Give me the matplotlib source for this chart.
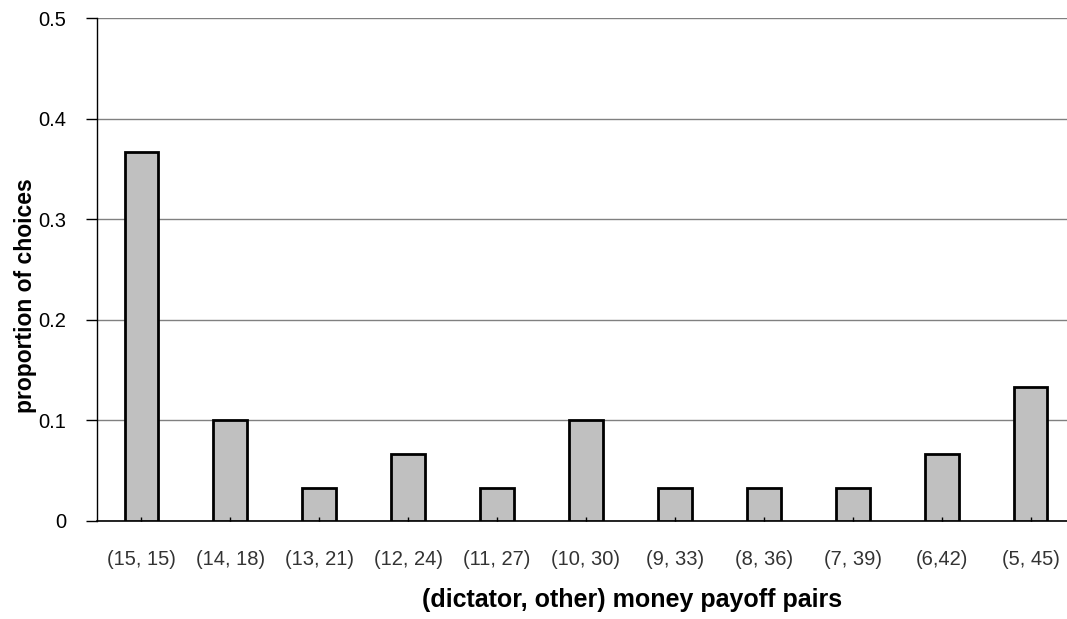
import matplotlib
matplotlib.use("Agg")
import matplotlib.pyplot as plt

categories = ["(15, 15)", "(14, 18)", "(13, 21)", "(12, 24)", "(11, 27)", "(10, 30)",
              "(9, 33)", "(8, 36)", "(7, 39)", "(6,42)", "(5, 45)"]
values = [0.367, 0.100, 0.033, 0.067, 0.033, 0.100, 0.033, 0.033, 0.033, 0.067, 0.133]
yticks = [0, 0.1, 0.2, 0.3, 0.4, 0.5]
ytick_labels = ["0", "0.1", "0.2", "0.3", "0.4", "0.5"]

plt.rcParams['font.family'] = ['Liberation Sans', 'DejaVu Sans']

W, H = 1067, 619
fig = plt.figure(figsize=(W/100, H/100), dpi=100)
left, right, top, bottom = 97, 1075, 18, 521
pos = [left/W, (H-bottom)/H, (right-left)/W, (bottom-top)/H]
ax = fig.add_axes(pos)

x = list(range(len(categories)))
ax.bar(x, values, width=0.38, color="#c0c0c0", edgecolor="black", linewidth=2, zorder=3)
ax.set_xlim(-0.5, len(categories)-0.5)
ax.set_ylim(0, 0.5)
ax.set_yticks(yticks)
ax.set_yticklabels(ytick_labels, fontsize=14.5)
ax.yaxis.grid(True, color="#808080", linewidth=1, zorder=0)
ax.set_axisbelow(True)
ax.set_xticks(x)
ax.set_xticklabels(categories, fontsize=14.5, color="#333333")
ax.tick_params(axis='x', direction='in', length=3, width=1, pad=21)
ax.tick_params(axis='y', direction='out', length=8, width=1, pad=14)
for s in ['top', 'right']:
    ax.spines[s].set_visible(False)
ax.spines['left'].set_linewidth(1)
ax.spines['bottom'].set_linewidth(1.2)

# overlay axes so the small inward x ticks show on top of the bars
ax2 = fig.add_axes(pos, frameon=False)
ax2.set_xlim(ax.get_xlim())
ax2.set_ylim(ax.get_ylim())
ax2.set_xticks(x)
ax2.set_xticklabels([])
ax2.set_yticks([])
ax2.tick_params(axis='x', direction='in', length=3, width=1)
ax2.patch.set_visible(False)

fig.text(26/W, 1 - 296/H, "proportion of choices", rotation=90, fontsize=16.5,
         fontweight='bold', ha='center', va='center')
fig.text(632/W, 1 - 600/H, "(dictator, other) money payoff pairs", fontsize=18,
         fontweight='bold', ha='center', va='center')

fig.savefig("out.png", dpi=100)
